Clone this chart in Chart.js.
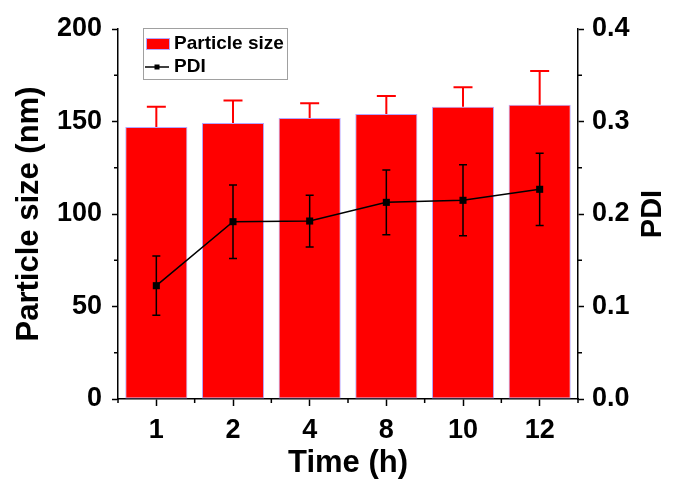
<!DOCTYPE html>
<html>
<head>
<meta charset="utf-8">
<script src="https://cdn.jsdelivr.net/npm/chart.js@4/dist/chart.umd.min.js"></script>
<style>
  html, body { margin: 0; padding: 0; background: #fff; }
  #wrap { width: 673px; height: 479px; }
</style>
</head>
<body>
<div id="wrap"><canvas id="chart" width="673" height="479"></canvas></div>
<script>
const times = ['1', '2', '4', '8', '10', '12'];
const sizes = [147, 149.2, 151.9, 154.1, 158, 159.1];
const sizeErr = [11, 12.2, 7.9, 9.7, 10.5, 18.2];
const pdi = [0.1225, 0.1917, 0.1924, 0.2126, 0.2148, 0.2267];
const pdiErr = [0.032, 0.0397, 0.028, 0.035, 0.0384, 0.039];
const leftTicks = [0, 50, 100, 150, 200];
const rightTicks = [0, 0.1, 0.2, 0.3, 0.4];

const FONT = '"Liberation Sans", Arial, sans-serif';

// error bars: red (upper only) for bars, black for PDI
const errorBars = {
  id: 'errorBars',
  afterDatasetsDraw(chart) {
    const ctx = chart.ctx;
    const x = chart.scales.x, y = chart.scales.y, y2 = chart.scales.y2;
    ctx.save();
    ctx.strokeStyle = '#ff0000';
    ctx.lineWidth = 2;
    sizes.forEach((v, i) => {
      const px = x.getPixelForValue(i);
      const top = y.getPixelForValue(v + sizeErr[i]);
      const base = y.getPixelForValue(v);
      ctx.beginPath();
      ctx.moveTo(px, base); ctx.lineTo(px, top);
      ctx.moveTo(px - 9.5, top); ctx.lineTo(px + 9.5, top);
      ctx.stroke();
    });
    ctx.strokeStyle = '#000';
    ctx.lineWidth = 1.5;
    pdi.forEach((v, i) => {
      const px = x.getPixelForValue(i);
      const top = y2.getPixelForValue(v + pdiErr[i]);
      const bot = y2.getPixelForValue(v - pdiErr[i]);
      ctx.beginPath();
      ctx.moveTo(px, bot); ctx.lineTo(px, top);
      ctx.moveTo(px - 4, top); ctx.lineTo(px + 4, top);
      ctx.moveTo(px - 4, bot); ctx.lineTo(px + 4, bot);
      ctx.stroke();
    });
    ctx.restore();
  }
};

// minor ticks on all three axes, PDI title on the right, boxed legend
const extras = {
  id: 'extras',
  afterDraw(chart) {
    const ctx = chart.ctx;
    const x = chart.scales.x, y = chart.scales.y, y2 = chart.scales.y2;
    const area = chart.chartArea;
    ctx.save();
    ctx.strokeStyle = '#000';
    ctx.lineWidth = 1.5;
    ctx.beginPath();
    for (let i = 0; i <= times.length; i++) {
      const px = i === 0 ? area.left : i === times.length ? area.right
        : (x.getPixelForValue(i - 1) + x.getPixelForValue(i)) / 2;
      ctx.moveTo(px, area.bottom); ctx.lineTo(px, area.bottom + 4);
    }
    for (let i = 0; i < leftTicks.length - 1; i++) {
      const py = y.getPixelForValue((leftTicks[i] + leftTicks[i + 1]) / 2);
      ctx.moveTo(area.left, py); ctx.lineTo(area.left - 4, py);
      const py2 = y2.getPixelForValue((rightTicks[i] + rightTicks[i + 1]) / 2);
      ctx.moveTo(area.right, py2); ctx.lineTo(area.right + 4, py2);
    }
    ctx.stroke();

    // right axis title, reading bottom to top like the left one
    ctx.fillStyle = '#000';
    ctx.font = 'bold 29px ' + FONT;
    ctx.textAlign = 'center';
    ctx.textBaseline = 'middle';
    ctx.translate(653, (area.top + area.bottom) / 2);
    ctx.rotate(-Math.PI / 2);
    ctx.fillText('PDI', 0, 0);
    ctx.restore();

    // legend
    ctx.save();
    const ds = chart.data.datasets;
    ctx.strokeStyle = '#a0a0a0';
    ctx.lineWidth = 1;
    ctx.strokeRect(143.5, 28.5, 144, 51);
    ctx.fillStyle = ds[0].backgroundColor;
    ctx.fillRect(146, 38, 24, 12);
    ctx.strokeStyle = ds[0].borderColor;
    ctx.strokeRect(146.5, 38.5, 23, 11);
    ctx.strokeStyle = '#000';
    ctx.lineWidth = 1.5;
    ctx.beginPath();
    ctx.moveTo(145, 67); ctx.lineTo(169, 67);
    ctx.stroke();
    ctx.fillStyle = '#000';
    ctx.fillRect(154.5, 64.5, 5, 5);
    ctx.font = 'bold 19px ' + FONT;
    ctx.textAlign = 'left';
    ctx.textBaseline = 'middle';
    ctx.fillText(ds[0].label, 174, 44);
    ctx.fillText(ds[1].label, 174, 67);
    ctx.restore();
  }
};

new Chart(document.getElementById('chart'), {
  data: {
    labels: times,
    datasets: [
      {
        type: 'bar',
        label: 'Particle size',
        data: sizes,
        backgroundColor: '#ff0000',
        borderColor: '#b4a6ff',
        borderWidth: 1,
        borderSkipped: false,
        barPercentage: 0.81,
        categoryPercentage: 1,
        yAxisID: 'y',
        order: 2
      },
      {
        type: 'line',
        label: 'PDI',
        data: pdi,
        borderColor: '#000',
        backgroundColor: '#000',
        borderWidth: 1.5,
        pointStyle: 'rect',
        pointRadius: 5,
        pointBorderWidth: 0,
        pointBackgroundColor: '#000',
        yAxisID: 'y2',
        order: 1
      }
    ]
  },
  options: {
    responsive: false,
    animation: false,
    events: [],
    layout: { padding: { top: 29, left: 0, right: 0, bottom: 0 } },
    plugins: { legend: { display: false }, tooltip: { enabled: false } },
    scales: {
      x: {
        offset: true,
        grid: { display: true, drawOnChartArea: false, offset: false, color: '#000', tickLength: 7, tickWidth: 1.5 },
        border: { color: '#000', width: 1.5 },
        ticks: { color: '#000', padding: 8, font: { family: FONT, size: 27, weight: 'bold' } },
        title: { display: true, text: 'Time (h)', color: '#000', padding: { top: 0, bottom: 0 },
                 font: { family: FONT, size: 31, weight: 'bold', lineHeight: 1 } },
        afterFit: s => { s.height = 80; }
      },
      y: {
        position: 'left',
        min: 0, max: 200,
        ticks: { stepSize: 50, color: '#000', padding: 10, font: { family: FONT, size: 27, weight: 'bold' } },
        grid: { drawOnChartArea: false, color: '#000', tickLength: 6, tickWidth: 1.5 },
        border: { color: '#000', width: 1.5 },
        title: { display: true, text: 'Particle size (nm)', color: '#000', padding: { top: 14, bottom: 0 },
                 font: { family: FONT, size: 31, weight: 'bold', lineHeight: 1 } },
        afterFit: s => { s.width = 118; }
      },
      y2: {
        position: 'right',
        min: 0, max: 0.4,
        ticks: { stepSize: 0.1, color: '#000', padding: 8, font: { family: FONT, size: 27, weight: 'bold' },
                 callback: v => v.toFixed(1) },
        grid: { drawOnChartArea: false, color: '#000', tickLength: 6, tickWidth: 1.5 },
        border: { color: '#000', width: 1.5 },
        afterFit: s => { s.width = 95; }
      }
    }
  },
  plugins: [errorBars, extras]
});
</script>
</body>
</html>
